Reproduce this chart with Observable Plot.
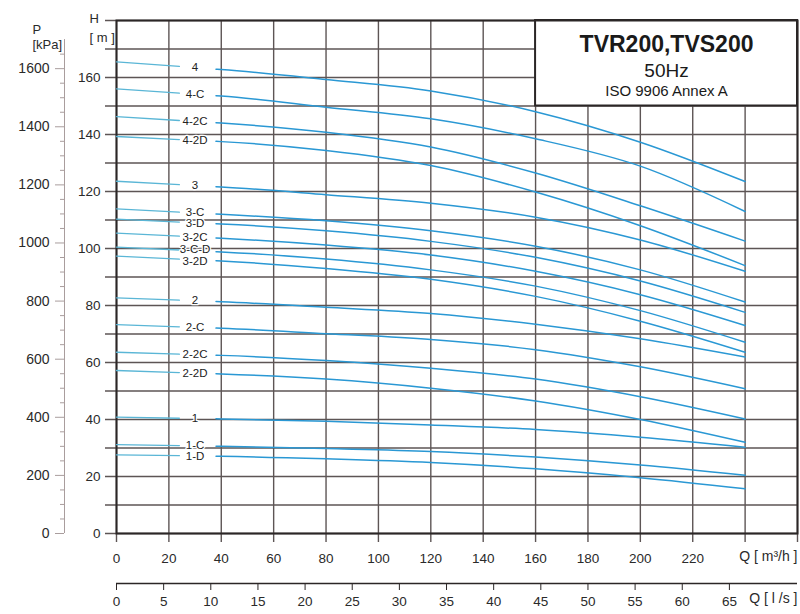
<!DOCTYPE html>
<html><head><meta charset="utf-8">
<script src="https://cdn.jsdelivr.net/npm/d3@7"></script>
<script src="https://cdn.jsdelivr.net/npm/@observablehq/plot@0.6"></script>
<style>
html,body{margin:0;padding:0;background:#fff;}
#chart svg{display:block;}
</style></head><body><div id="chart"></div>
<script>
// Flow points (m3/h) at which heads were read
const Q = [0, 40, 80, 120, 160, 200, 240];

// Head H [m] for each curve
const h4    = [165.5, 162.8, 159.3, 155.3, 148.0, 137.3, 123.5];
const h4C   = [156.0, 153.5, 149.6, 145.5, 138.5, 128.9, 113.0];
const h4_2C = [146.3, 144.0, 140.8, 135.6, 126.5, 115.0, 102.6];
const h4_2D = [139.3, 137.5, 134.4, 129.1, 119.8, 108.0, 94.0];
const h3    = [123.6, 121.6, 118.9, 115.9, 111.0, 103.0, 92.0];
const h3C   = [113.9, 112.0, 109.7, 106.2, 100.8, 92.5, 81.2];
const h3D   = [110.3, 108.6, 106.2, 102.5, 96.9, 88.6, 77.6];
const h3_2C = [105.4, 103.6, 101.2, 97.7, 92.0, 83.8, 73.0];
const h3CD  = [100.5, 98.8, 96.3, 92.5, 86.8, 78.2, 67.1];
const h3_2D = [97.3, 95.6, 93.0, 89.2, 83.2, 74.5, 63.6];
const h2    = [82.7, 81.3, 79.4, 77.2, 73.4, 68.3, 61.9];
const h2C   = [73.3, 72.0, 70.1, 68.1, 64.5, 58.5, 50.8];
const h2_2C = [63.6, 62.5, 60.7, 58.0, 54.2, 48.0, 40.2];
const h2_2D = [57.2, 56.0, 54.2, 51.0, 46.5, 40.0, 32.0];
const h1    = [40.8, 40.2, 39.4, 38.1, 36.5, 33.8, 30.3];
const h1C   = [31.2, 30.6, 29.8, 28.8, 26.8, 24.0, 20.4];
const h1D   = [27.6, 27.1, 26.2, 24.9, 22.7, 19.6, 15.7];

const curveNames = ["4","4-C","4-2C","4-2D","3","3-C","3-D","3-2C","3-C-D","3-2D","2","2-C","2-2C","2-2D","1","1-C","1-D"];
const curveHeads = [h4, h4C, h4_2C, h4_2D, h3, h3C, h3D, h3_2C, h3CD, h3_2D, h2, h2C, h2_2C, h2_2D, h1, h1C, h1D];

// Tick values
const qGrid = [0, 20, 40, 60, 80, 100, 120, 140, 160, 180, 200, 220, 240, 260];
const qTickLabels = [0, 20, 40, 60, 80, 100, 120, 140, 160, 180, 200, 220];
const hGrid = [0, 10, 20, 30, 40, 50, 60, 70, 80, 90, 100, 110, 120, 130, 140, 150, 160, 170, 180];
const hTickLabels = [0, 20, 40, 60, 80, 100, 120, 140, 160];
const lsTicks = [0, 5, 10, 15, 20, 25, 30, 35, 40, 45, 50, 55, 60, 65];
const pMajor = [0, 200, 400, 600, 800, 1000, 1200, 1400, 1600];
const pMinor = [50, 100, 150, 250, 300, 350, 450, 500, 550, 650, 700, 750, 850, 900, 950, 1050, 1100, 1150, 1250, 1300, 1350, 1450, 1500, 1550, 1650];
const titleLines = ["TVR200,TVS200", "50Hz", "ISO 9906 Annex A"];
const xLabels = ["Q [ m³/h ]", "Q [ l /s ]"];

const KPA_PER_M = 9.81;
const M3H_PER_LS = 3.6;
const GAP_START = 24, GAP_END = 38, LABEL_Q = 30;
const LABEL_MIN_GAP = 4.1; // metres between stacked curve labels

const segA = [], segB = [], labels = [];
curveNames.forEach((name, k) => {
  const h = curveHeads[k];
  const f = d3.scaleLinear(Q, h);
  segA.push({name, q: 0, h: h[0]}, {name, q: GAP_START, h: f(GAP_START)});
  segB.push({name, q: GAP_END, h: f(GAP_END)});
  Q.forEach((q, i) => { if (q > GAP_END) segB.push({name, q, h: h[i]}); });
  labels.push({name, q: LABEL_Q, h: f(LABEL_Q)});
});
// spread labels that would collide
labels.sort((a, b) => b.h - a.h);
for (let pass = 0; pass < 6; pass++) {
  for (let i = 1; i < labels.length; i++) {
    const d = labels[i - 1].h - labels[i].h;
    if (d < LABEL_MIN_GAP) {
      const push = (LABEL_MIN_GAP - d) / 2;
      labels[i - 1].h += push;
      labels[i].h -= push;
    }
  }
}
const titleBox = [{q1: 160, q2: 260, h1: 150, h2: 180}];

const GRID = "#5d5555";
const DARK = "#2b2626";
const LIGHT = "#a99d9d";
const BLUE = "#2a98d4";

const chart = Plot.plot({
  width: 800, height: 614,
  marginLeft: 116, marginRight: 3, marginTop: 20, marginBottom: 81,
  x: {domain: [0, 260], axis: null},
  y: {domain: [0, 180], axis: null},
  style: {fontFamily: "'Liberation Sans', Arial, sans-serif", fontSize: "13px", color: "#2a2a2a", background: "white"},
  marks: [
    Plot.ruleX(qGrid, {stroke: GRID, strokeWidth: 1.4, insetBottom: -9}),
    Plot.ruleY(hGrid, {stroke: GRID, strokeWidth: 1.4, insetLeft: -11}),
    Plot.rect(titleBox, {x1: "q1", x2: "q2", y1: "h1", y2: "h2", fill: "white", stroke: DARK, strokeWidth: 2}),
    Plot.frame({stroke: DARK, strokeWidth: 2}),
    // H axis labels
    Plot.axisY(hTickLabels, {anchor: "left", tickSize: 0, tickPadding: 16, fontSize: 13.5, fill: "#2a2a2a"}),
    // P axis
    Plot.ruleX([0], {dx: -52, y1: 0, y2: 1700 / KPA_PER_M, stroke: LIGHT, strokeWidth: 1}),
    Plot.axisY(pMinor.map(p => p / KPA_PER_M), {anchor: "left", dx: -52, tickSize: 4, tickFormat: () => null, stroke: LIGHT}),
    Plot.axisY(pMajor.map(p => p / KPA_PER_M), {anchor: "left", dx: -52, tickSize: 9, tickPadding: 6, stroke: LIGHT, fill: "#2a2a2a", fontSize: 14, tickFormat: h => String(Math.round(h * KPA_PER_M))}),
    // Q axes
    Plot.axisX(qTickLabels, {anchor: "bottom", tickSize: 0, tickPadding: 20, fontSize: 13.5, fill: "#2a2a2a"}),
    Plot.ruleY([0], {dy: 50, stroke: DARK, strokeWidth: 1.5}),
    Plot.axisX(lsTicks.map(v => v * M3H_PER_LS), {anchor: "bottom", dy: 50, tickSize: 7, tickPadding: 6, stroke: DARK, fill: "#2a2a2a", fontSize: 13.5, tickFormat: q => String(Math.round(q / M3H_PER_LS))}),
    Plot.text([xLabels[0]], {text: d => d, frameAnchor: "bottom-right", textAnchor: "end", dy: 27, fontSize: 14, fill: "#2a2a2a"}),
    Plot.text([xLabels[1]], {text: d => d, frameAnchor: "bottom-right", textAnchor: "end", dy: 69, fontSize: 14, fill: "#2a2a2a"}),
    // axis titles
    Plot.text(["P"], {text: d => d, frameAnchor: "top-left", dx: -84, dy: 4, fontSize: 13, fill: "#2a2a2a"}),
    Plot.text(["[kPa]"], {text: d => d, frameAnchor: "top-left", dx: -84, dy: 19, fontSize: 13, fill: "#2a2a2a"}),
    Plot.text(["H"], {text: d => d, frameAnchor: "top-left", dx: -27, dy: -7, fontSize: 13, fill: "#2a2a2a"}),
    Plot.text(["[ m ]"], {text: d => d, frameAnchor: "top-left", dx: -27, dy: 12, fontSize: 13, fill: "#2a2a2a"}),
    // title block
    Plot.text([titleLines[0]], {text: d => d, x: 210, y: 180, dy: 24, fontSize: 23, fontWeight: "bold", fill: "#1a1a1a"}),
    Plot.text([titleLines[1]], {text: d => d, x: 210, y: 180, dy: 50, fontSize: 19, fill: "#1a1a1a"}),
    Plot.text([titleLines[2]], {text: d => d, x: 210, y: 180, dy: 71, fontSize: 15, fill: "#1a1a1a"}),
    // curves
    Plot.line(segA, {x: "q", y: "h", z: "name", stroke: "#5ab6d6", strokeWidth: 1.3}),
    Plot.line(segB, {x: "q", y: "h", z: "name", stroke: BLUE, strokeWidth: 1.5, curve: "monotone-x"}),
    Plot.text(labels, {x: "q", y: "h", text: "name", fontSize: 11.5, fill: "#222", stroke: "white", strokeWidth: 2.5, paintOrder: "stroke"})
  ]
});
document.getElementById("chart").append(chart);
</script>
</body></html>
